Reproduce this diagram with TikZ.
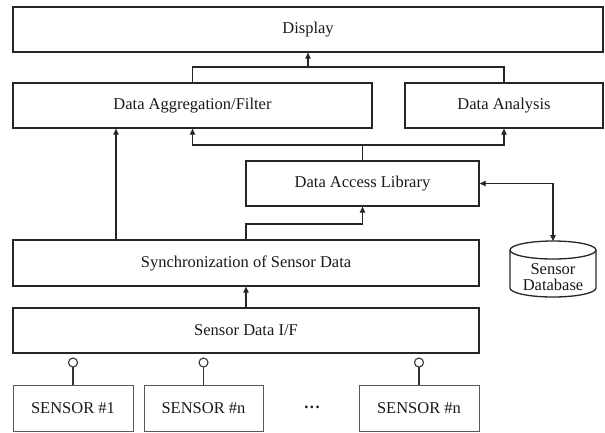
\documentclass[tikz,border=0pt]{standalone}
\usepackage{fontspec}
\setmainfont{Liberation Serif}
\usetikzlibrary{arrows.meta}
\begin{document}
\begin{tikzpicture}[x=1pt,y=-1pt,
  txt/.style={font=\fontsize{16.5}{16}\selectfont, text=black!90},
  box/.style={txt, draw=black!85, line width=1.3pt, rectangle, inner sep=0pt},
  sbox/.style={txt, draw=black!65, line width=0.9pt, rectangle, inner sep=0pt, minimum width=120pt, minimum height=46pt},
  conn/.style={line width=1.1pt, draw=black!85},
  arr/.style={conn, -{Triangle[length=6pt,width=5.5pt]}},
  dblarr/.style={conn, {Triangle[length=6pt,width=5.5pt]}-{Triangle[length=6pt,width=5.5pt]}},
]
\useasboundingbox (0,0) rectangle (605,432);

% boxes
\node[box, minimum width=590pt, minimum height=45pt] (disp) at (308,29.5) {Display};
\node[box, minimum width=359pt, minimum height=45pt] (agg) at (192.5,105.5) {Data Aggregation/Filter};
\node[box, minimum width=198pt, minimum height=45pt] (ana) at (504,105.5) {Data Analysis};
\node[box, minimum width=233pt, minimum height=45pt] (dal) at (362.5,183.5) {Data Access Library};
\node[box, minimum width=466pt, minimum height=46pt] (sync) at (246,263) {Synchronization of Sensor Data};
\node[box, minimum width=466pt, minimum height=45pt] (sif) at (246,330.5) {Sensor Data I/F};

% sensors
\node[sbox] (sa) at (73,408) {SENSOR \#1};
\node[sbox, minimum width=119pt] (sb) at (203.5,408) {SENSOR \#n};
\node[txt, font=\fontsize{16.5}{17}\selectfont\bfseries] (dots) at (312,407) {.\kern1.5pt.\kern1.5pt.};
\node[sbox] (sc) at (419,408) {SENSOR \#n};

% database cylinder
\draw[line width=1.3pt, draw=black!85] (510,250) -- (510,288) arc[start angle=180, end angle=0, x radius=43, y radius=9] -- (596,250);
\draw[line width=1.3pt, draw=black!85] (553,250) ellipse [x radius=43, y radius=9];
\coordinate (dbtop) at (553,241);
\node[txt, align=center, inner sep=0pt] (db) at (553,277) {Sensor\\Database};

% connectors to display
\coordinate (j1) at (308,67);
\draw[conn] (agg.north) |- (j1) -| (ana.north);
\draw[arr] (j1) -- (disp.south);

% data access library up
\coordinate (j2) at (362.5,145);
\draw[conn] (dal.north) -- (j2);
\draw[arr] (j2) -| (agg.south);
\draw[arr] (j2) -| (ana.south);

% sync to aggregation
\coordinate (s1) at (116,240);
\draw[arr] (s1) -- (s1 |- agg.south);

% sync to DAL
\coordinate (j3) at (246,224);
\draw[arr] (sync.north) -- (j3) -| (dal.south);

% I/F to sync
\draw[arr] (sif.north) -- (sync.south);

% DAL <-> DB
\coordinate (j4) at (553,183.5);
\draw[dblarr] (dal.east) -- (j4) -- (dbtop);

% lollipops
\foreach \s in {sa,sb,sc}{
  \draw[line width=1.1pt, draw=black!80] (\s.north) -- ([yshift=17.5pt]\s.north);
  \draw[line width=1.1pt, draw=black!80] ([yshift=22pt]\s.north) circle[radius=4.5pt];
}
\end{tikzpicture}
\end{document}
